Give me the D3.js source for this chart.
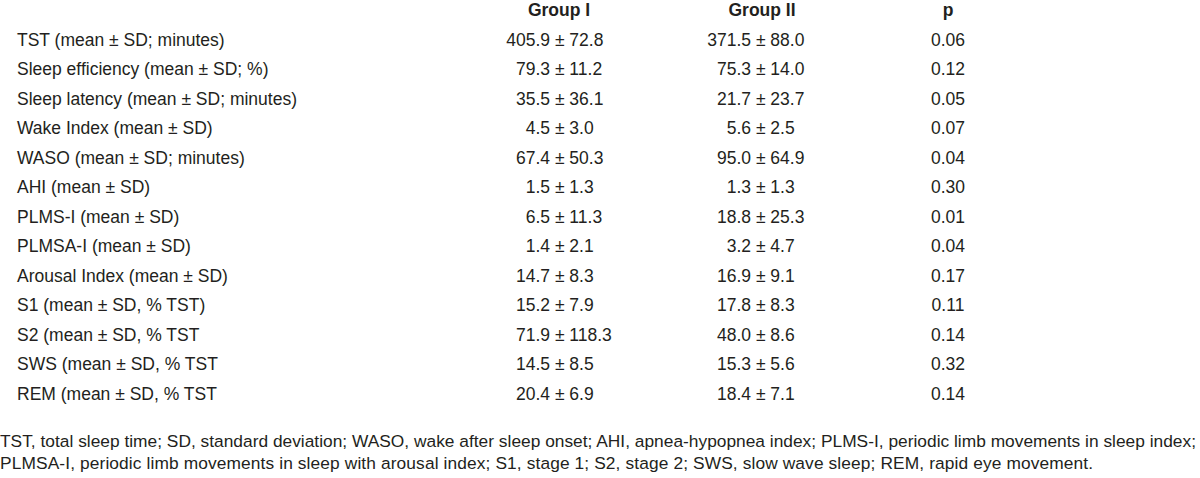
<!DOCTYPE html>
<meta charset="utf-8">
<style>
body { margin: 0; background: #fff; }
text {
  font-family: "Liberation Sans", Arial, Helvetica, sans-serif;
  font-size: 17.5px;
  fill: #231f20;
}
.head { font-weight: bold; }
</style>
<svg width="1200" height="478" id="tbl"></svg>
<script src="https://cdnjs.cloudflare.com/ajax/libs/d3/7.8.5/d3.min.js"></script>
<script>

var headers = ["Group I", "Group II", "p"];

var labels = [
  "TST (mean ± SD; minutes)",
  "Sleep efficiency (mean ± SD; %)",
  "Sleep latency (mean ± SD; minutes)",
  "Wake Index (mean ± SD)",
  "WASO (mean ± SD; minutes)",
  "AHI (mean ± SD)",
  "PLMS-I (mean ± SD)",
  "PLMSA-I (mean ± SD)",
  "Arousal Index (mean ± SD)",
  "S1 (mean ± SD, % TST)",
  "S2 (mean ± SD, % TST",
  "SWS (mean ± SD, % TST",
  "REM (mean ± SD, % TST"
];

var group1Mean = [405.9, 79.3, 35.5, 4.5, 67.4, 1.5, 6.5, 1.4, 14.7, 15.2, 71.9, 14.5, 20.4];
var group1SD   = [72.8, 11.2, 36.1, 3.0, 50.3, 1.3, 11.3, 2.1, 8.3, 7.9, 118.3, 8.5, 6.9];
var group2Mean = [371.5, 75.3, 21.7, 5.6, 95.0, 1.3, 18.8, 3.2, 16.9, 17.8, 48.0, 15.3, 18.4];
var group2SD   = [88.0, 14.0, 23.7, 2.5, 64.9, 1.3, 25.3, 4.7, 9.1, 8.3, 8.6, 5.6, 7.1];
var pValues    = [0.06, 0.12, 0.05, 0.07, 0.04, 0.30, 0.01, 0.04, 0.17, 0.11, 0.14, 0.32, 0.14];

var footnote = [
  "TST, total sleep time; SD, standard deviation; WASO, wake after sleep onset; AHI, apnea-hypopnea index; PLMS-I, periodic limb movements in sleep index;",
  "PLMSA-I, periodic limb movements in sleep with arousal index; S1, stage 1; S2, stage 2; SWS, slow wave sleep; REM, rapid eye movement."
];

var svg = d3.select("#tbl");
var f1 = d3.format(".1f"), f2 = d3.format(".2f");

// row baselines
var y = d3.scalePoint().domain(labels).range([45.7, 399.7]);

var labelX = 17,
    headX = [559, 762, 948],   // header centres
    pmX = [550, 751],          // right edge of the mean, before " ± "
    pX = 948,
    gap = 4.9,
    fnWidth = [1196, 1093];    // footnote line widths

// header
svg.selectAll(".head").data(headers).enter().append("text")
  .attr("class", "head")
  .attr("x", function(d, i) { return headX[i]; })
  .attr("y", 16)
  .attr("text-anchor", "middle")
  .text(function(d) { return d; });

var row = svg.selectAll(".row").data(labels).enter().append("g")
  .attr("class", "row")
  .attr("transform", function(d) { return "translate(0," + y(d) + ")"; });

row.append("text")
  .attr("x", labelX)
  .text(function(d) { return d; });

[[group1Mean, group1SD], [group2Mean, group2SD]].forEach(function(g, k) {
  row.append("text")
    .attr("x", pmX[k])
    .attr("text-anchor", "end")
    .text(function(d, i) { return f1(g[0][i]); });
  row.append("text")
    .attr("x", pmX[k] + gap)
    .text(function(d, i) { return "± " + f1(g[1][i]); });
});

row.append("text")
  .attr("x", pX)
  .attr("text-anchor", "middle")
  .text(function(d, i) { return f2(pValues[i]); });

// footnote, sized so the first line spans the width
var fn = svg.selectAll(".fn").data(footnote).enter().append("text")
  .attr("class", "fn")
  .attr("x", 0)
  .attr("y", function(d, i) { return 447 + i * 22; })
  .text(function(d) { return d; });

var w = fn.node().getComputedTextLength();
fn.style("font-size", (17.5 * 1196 / w) + "px")
  .attr("textLength", function(d, i) { return fnWidth[i]; })
  .attr("lengthAdjust", "spacing");

</script>
